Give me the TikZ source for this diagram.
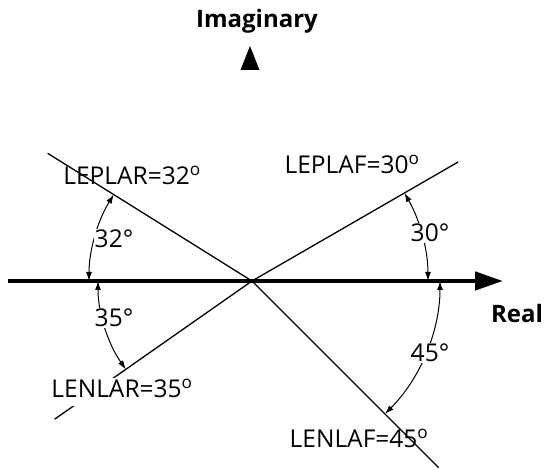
\documentclass[tikz,border=0pt]{standalone}
\usepackage{fontspec}
\setmainfont{Open Sans}
\usetikzlibrary{arrows.meta,calc}

\begin{document}
\begin{tikzpicture}[
  x=1pt, y=1pt,
  font=\fontsize{24.5}{28}\selectfont,
  axisline/.style={line width=4.5pt, -{Triangle[length=28pt,width=18pt]}},
  limline/.style={line width=1.3pt},
  angarc/.style={line width=1pt, {Latex[length=9pt,width=6pt]}-{Latex[length=9pt,width=6pt]}},
  limlbl/.style={anchor=base, inner sep=2pt},
  anglbl/.style={anchor=base, fill=white, inner sep=1pt},
  axlbl/.style={anchor=base, font=\fontsize{24}{28}\selectfont\bfseries},
]
\useasboundingbox (0,0) rectangle (549,470);

% ---- origin and real axis ----
\coordinate (orig) at (252,189);
\coordinate (reL) at (8,189);
\coordinate (reR) at (503,189);
\draw[axisline] (reL) -- (reR);
\node[axlbl] (relbl) at (517,147) {Real};

% ---- imaginary axis: only the arrow tip is shown ----
\coordinate (imtip) at (250,424);
\fill (imtip) -- ($(imtip)+(9.5,-24)$) -- ($(imtip)+(-9.5,-24)$) -- cycle;
\node[axlbl] (imlbl) at (257,442) {Imaginary};

% ---- limit lines ----
\coordinate (lplar) at ($(orig)+(148:241)$);
\coordinate (lplaf) at ($(orig)+(30:238)$);
\coordinate (lnlar) at ($(orig)+(215:241)$);
\coordinate (lnlaf) at ($(orig)+(-45:264)$);
\foreach \e in {lplar,lplaf,lnlar,lnlaf}
  \draw[limline] (orig) -- (\e);

% ---- angle arcs ----
\draw[angarc] ($(orig)+(180:163)$) arc[start angle=180, end angle=148, radius=163];
\draw[angarc] ($(orig)+(180:154)$) arc[start angle=180, end angle=215, radius=154];
\draw[angarc] ($(orig)+(0:176)$) arc[start angle=0, end angle=30, radius=176];
\draw[angarc] ($(orig)+(0:188)$) arc[start angle=0, end angle=-45, radius=188];

% ---- labels ----
\node[limlbl] (lblplar) at (132,285) {LEPLAR=32\textsuperscript{o}};
\node[limlbl] (lblplaf) at (352,296) {LEPLAF=30\textsuperscript{o}};
\node[limlbl, fill=white, text depth=6pt] (lblnlar) at (122,72) {LENLAR=35\textsuperscript{o}};
\node[limlbl] (lblnlaf) at (359,22) {LENLAF=45\textsuperscript{o}};

\node[anglbl] (ang32) at (114,222) {32°};
\node[anglbl] (ang35) at (114,143) {35°};
\node[anglbl] (ang30) at (430,228) {30°};
\node[anglbl] (ang45) at (430,108) {45°};
\end{tikzpicture}
\end{document}
